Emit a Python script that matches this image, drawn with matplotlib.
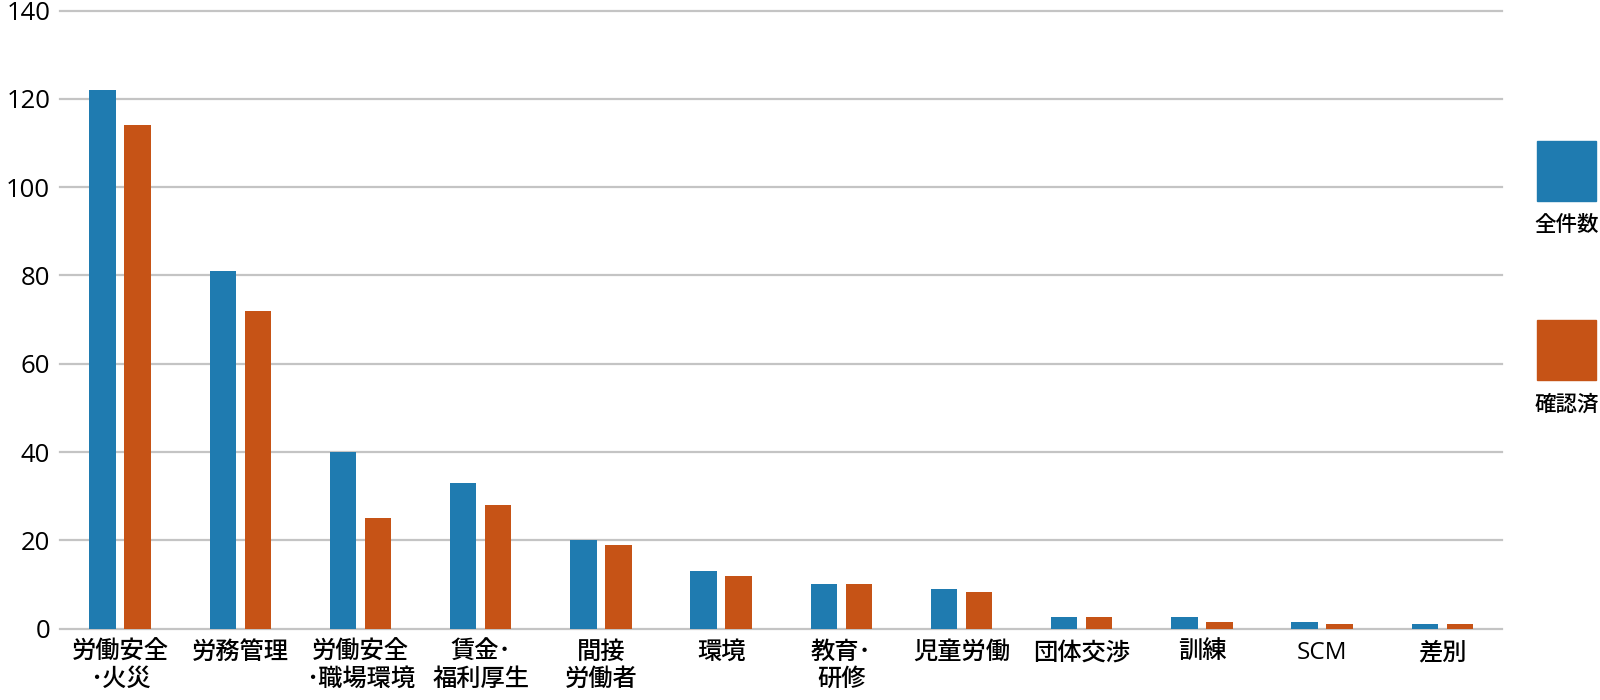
import numpy as np
import matplotlib.pyplot as plt
from matplotlib.patches import Rectangle

plt.rcParams['font.family'] = ['Open Sans', 'Noto Sans CJK JP', 'DejaVu Sans']

# data
categories = ["労働安全\n･火災", "労務管理", "労働安全\n･職場環境", "賃金･\n福利厚生",
              "間接\n労働者", "環境", "教育･\n研修", "児童労働", "団体交渉",
              "訓練", "SCM", "差別"]
total = [122, 81, 40, 33, 20, 13, 10, 9, 2.7, 2.7, 1.6, 1.1]
confirmed = [114, 72, 25, 28, 19, 12, 10, 8.3, 2.7, 1.6, 1.1, 1.1]
series_names = ["全件数", "確認済"]
colors = ["#1f7bb0", "#c65316"]
yticks = [0, 20, 40, 60, 80, 100, 120, 140]

fig = plt.figure(figsize=(16, 7), dpi=100)
ax = fig.add_axes([0.0375, 0.102, 0.9015, 0.883])

x = np.arange(len(categories))
w = 0.22
off = 0.145
ax.bar(x - off, total, width=w, color=colors[0], zorder=3)
ax.bar(x + off, confirmed, width=w, color=colors[1], zorder=3)

ax.set_xlim(-0.5, len(categories) - 0.5)
ax.set_ylim(0, 140)
ax.set_yticks(yticks)
ax.set_yticklabels([str(v) for v in yticks], fontsize=18.5)
ax.set_xticks(x)
ax.set_xticklabels(categories, fontsize=17.5, linespacing=1.15, va='top',
                   fontweight='medium')
ax.tick_params(axis='both', length=0)
ax.tick_params(axis='x', pad=9)
ax.tick_params(axis='y', pad=7)
for s in ax.spines.values():
    s.set_visible(False)
for v in yticks:
    ax.axhline(v, color="#c4c4c4", lw=1.6, zorder=1, clip_on=False)

# legend on the right
leg_y = [0.713, 0.457]
text_y = [0.678, 0.421]
for i in range(2):
    fig.add_artist(Rectangle((0.9605, leg_y[i]), 0.037, 0.086,
                             transform=fig.transFigure, color=colors[i]))
    fig.text(0.979, text_y[i], series_names[i], ha='center', va='center',
             fontsize=15.5, fontweight='medium')

fig.savefig("out.png", dpi=100)
